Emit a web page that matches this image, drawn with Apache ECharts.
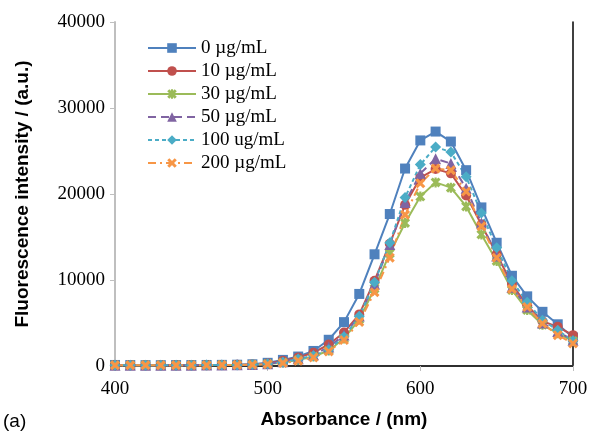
<!DOCTYPE html>
<html>
<head>
<meta charset="utf-8">
<script src="https://cdn.jsdelivr.net/npm/echarts@6/dist/echarts.min.js"></script>
<style>
html,body{margin:0;padding:0;background:#fff;}
#chart{width:593px;height:434px;}
</style>
</head>
<body>
<div id="chart"></div>
<script>
const wavelengths = [400,410,420,430,440,450,460,470,480,490,500,510,520,530,540,550,560,570,580,590,600,610,620,630,640,650,660,670,680,690,700];
const seriesNames = ['0 µg/mL','10 µg/mL','30 µg/mL','50 µg/mL','100 ug/mL','200 µg/mL'];
const s0   = [120,110,100,100,110,110,120,130,150,200,370,710,1100,1750,3050,5100,8380,12990,17670,22960,26230,27260,26100,22770,18440,14330,10490,8100,6300,4850,3320];
const s10  = [100,100,90,90,100,100,110,120,140,180,300,600,1000,1550,2500,3900,6000,9920,14215,18740,21900,22900,22400,19820,16440,12990,9535,7040,5200,4550,3590];
const s30  = [90,90,80,80,90,90,100,110,120,150,220,400,700,1100,1800,3200,5400,9000,13100,16630,19700,21350,20740,18550,15290,12220,8840,6500,4800,3800,2900];
const s50  = [100,100,90,90,100,100,110,120,140,170,250,500,850,1300,2200,3600,5800,9535,14140,19000,22390,24110,23540,20660,16630,12800,9150,6850,5000,4000,3000];
const s100 = [100,100,90,90,100,100,110,120,130,160,250,450,800,1200,1900,3395,5780,9725,14330,19590,23420,25460,24880,22000,17780,13750,9920,7420,5320,4160,2930];
const s200 = [90,90,80,80,90,90,100,110,120,150,200,350,600,1000,1700,3010,5120,8575,12600,17590,21240,22960,22770,20280,16250,12600,8960,6850,4930,3590,2630];
const yTicks = [0,10000,20000,30000,40000];
const xTicks = [400,500,600,700];

const t = 2.2;
const xPath = 'path://M0,'+t+' L'+t+',0 L10,'+(10-t)+' L'+(10-t)+',10 Z M'+(10-t)+',0 L10,'+t+' L'+t+',10 L0,'+(10-t)+' Z';
const starPath = xPath + ' M'+(5-t/2)+',0 L'+(5+t/2)+',0 L'+(5+t/2)+',10 L'+(5-t/2)+',10 Z';

const colors = ['#4F81BD','#C0504D','#9BBB59','#8064A2','#4BACC6','#F79646'];
const symbols = ['rect','circle',starPath,'triangle','diamond',xPath];
const symSizes = [10,10,10,11,11,10];
const lineTypes = ['solid','solid','solid',[8,5],[4,3],[8,4,2,4]];
const allData = [s0,s10,s30,s50,s100,s200];

const serif = '"Liberation Serif","DejaVu Serif",serif';
const sans = '"Liberation Sans",Arial,sans-serif';

const series = allData.map((d,i)=>({
  name: seriesNames[i],
  type: 'line',
  data: wavelengths.map((w,j)=>[w,d[j]]),
  symbol: symbols[i],
  symbolSize: symSizes[i],
  showAllSymbol: true,
  clip: false,
  lineStyle: {color: colors[i], width: 2, type: lineTypes[i]},
  itemStyle: {color: colors[i], borderWidth: 0},
  emphasis: {disabled: true},
  animation: false
}));

const chart = echarts.init(document.getElementById('chart'), null, {renderer:'canvas'});
chart.setOption({
  animation: false,
  backgroundColor: '#fff',
  grid: {left:115, right:20, top:22, bottom:64.5, containLabel:false},
  legend: {
    orient: 'vertical', left: 142, top: 33.5, padding: 5,
    itemWidth: 48, itemHeight: 12, itemGap: 4,
    textStyle: {fontFamily: serif, fontSize: 19, color:'#000'},
    data: seriesNames
  },
  xAxis: [{
    type: 'value', min: 400, max: 700, interval: 100,
    axisLine: {show:true, lineStyle:{color:'#BFBFBF', width:2}},
    axisTick: {show:true, length:5, lineStyle:{color:'#BFBFBF', width:1}},
    splitLine: {show:false},
    axisLabel: {fontFamily: serif, fontSize: 19, color:'#000', margin: 14,
      formatter: v => xTicks.includes(v) ? String(v) : ''},
    name: 'Absorbance / (nm)', nameLocation: 'middle', nameGap: 44,
    nameTextStyle: {fontFamily: sans, fontWeight:'bold', fontSize: 19, color:'#000'}
  },{
    type: 'value', min: 400, max: 700, position: 'top',
    axisLine: {show:true, lineStyle:{color:'#000', width:1.5}},
    axisTick: {show:false}, axisLabel:{show:false}, splitLine:{show:false}
  }],
  yAxis: [{
    type: 'value', min: 0, max: 40000, interval: 10000,
    axisLine: {show:true, lineStyle:{color:'#BFBFBF', width:2}},
    axisTick: {show:true, length:5, lineStyle:{color:'#BFBFBF', width:1}},
    splitLine: {show:false},
    axisLabel: {fontFamily: serif, fontSize: 19, color:'#000', margin: 10,
      formatter: v => yTicks.includes(v) ? String(v) : ''},
    name: 'Fluorescence intensity / (a.u.)', nameLocation: 'middle', nameGap: 83,
    nameTextStyle: {fontFamily: sans, fontWeight:'bold', fontSize: 19, color:'#000'}
  },{
    type: 'value', min: 0, max: 40000, position: 'right',
    axisLine: {show:true, lineStyle:{color:'#000', width:1.5}},
    axisTick: {show:false}, axisLabel:{show:false}, splitLine:{show:false}
  }],
  graphic: [{
    type: 'text', left: 3, top: 412,
    style: {text: '(a)', font: '19px "Liberation Sans", Arial, sans-serif', fill:'#000'}
  }],
  series: series
});
</script>
</body>
</html>
